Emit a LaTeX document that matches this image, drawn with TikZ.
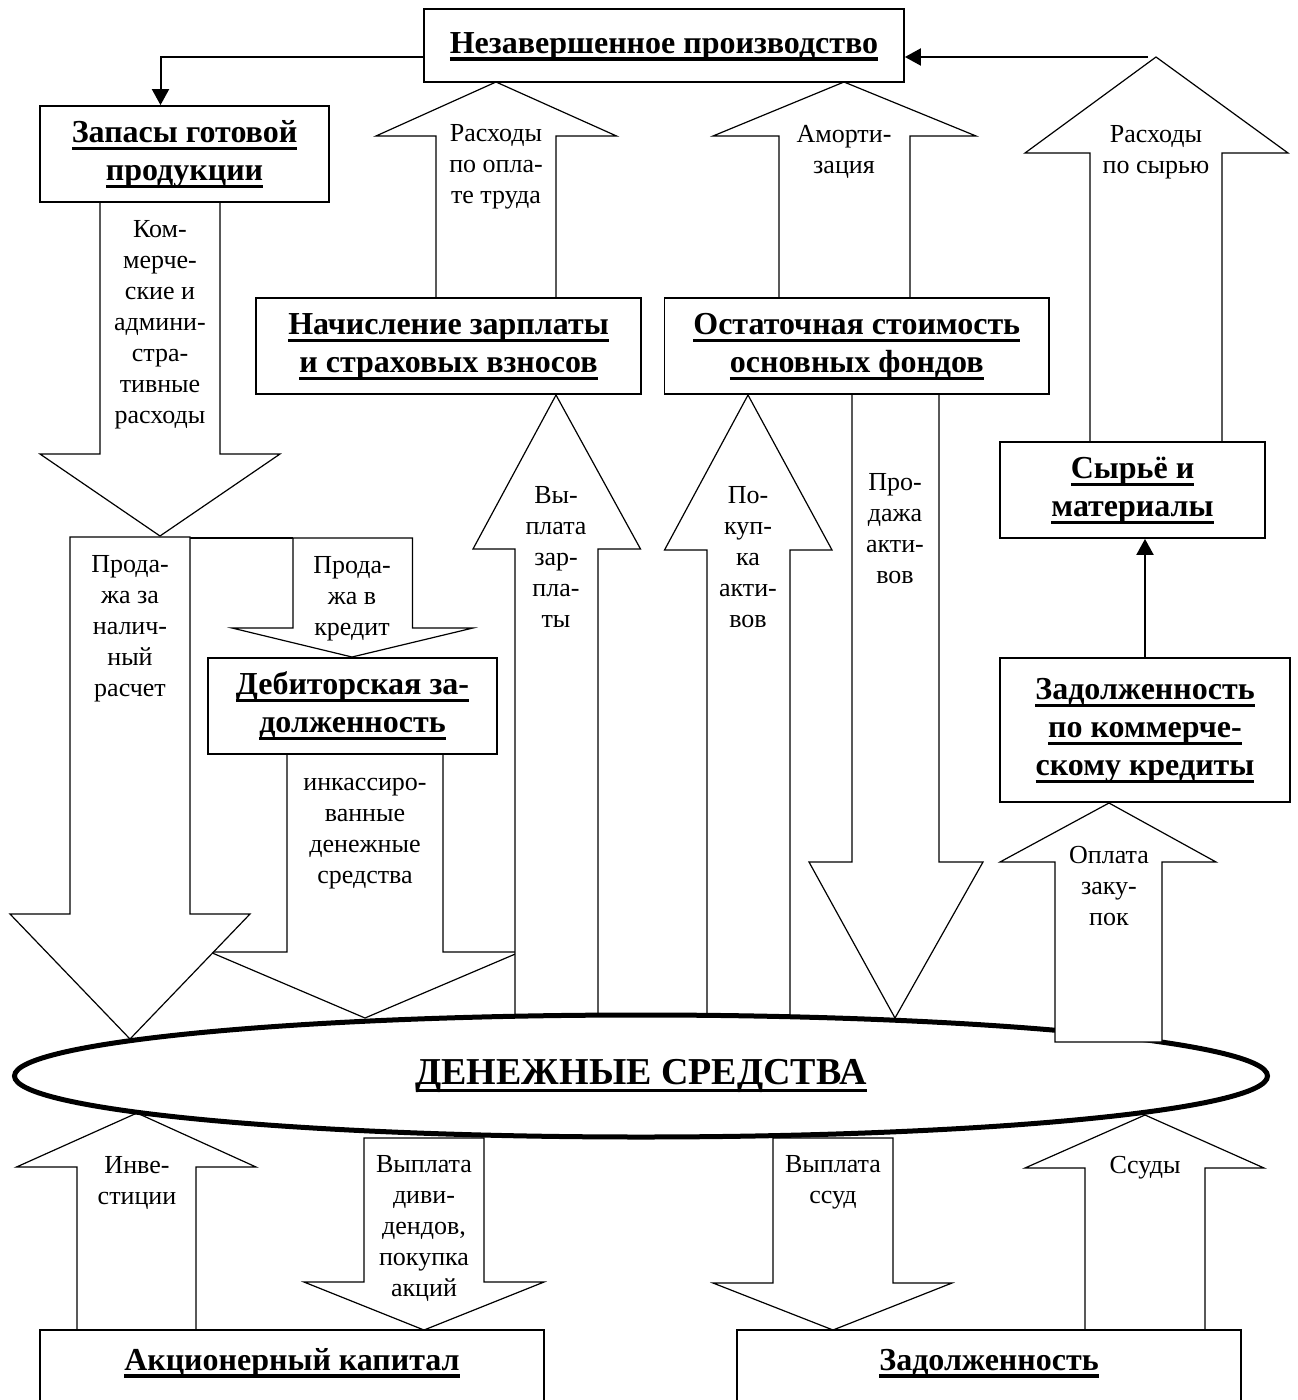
\documentclass[tikz,border=0pt]{standalone}
\usepackage{fontspec}
\setmainfont{Liberation Serif}
\usetikzlibrary{shapes.geometric,arrows.meta}
\newcommand\ulbf[1]{\setbox0=\hbox{#1}\rlap{\rule[-7.5pt]{\wd0}{3.5pt}}\box0}
\newcommand\BlkArr[8]{\draw[blk] (#1,#3) -- (#1,#6) -- (#4,#6) -- (#7,#8) -- (#5,#6) -- (#2,#6) -- (#2,#3) -- cycle;}
\begin{document}
\begin{tikzpicture}[x=1pt,y=-1pt,
  blk/.style={draw,line width=1.2pt,fill=white,line join=miter},
  box/.style={draw,line width=1.8pt,fill=white,inner sep=0pt,align=center,font=\bfseries\fontsize{32}{38}\selectfont},
  lbl/.style={inner sep=0pt,align=center,anchor=north,font=\fontsize{26}{31}\selectfont},
  thinarr/.style={line width=2pt,-{Triangle[length=16pt,width=17pt]}}]
\useasboundingbox (0,0) rectangle (1298,1400);

% block arrows (back layer)
\BlkArr{100}{220}{202}{40}{280}{454}{160}{536}      % Коммерческие
\BlkArr{436}{556}{298}{376}{616.5}{136}{496}{82}    % Расходы по оплате труда
\BlkArr{779}{910}{298}{713}{976}{136}{844}{82}      % Амортизация
\BlkArr{1090}{1222}{442}{1025}{1288}{153}{1156}{57} % Расходы по сырью
\BlkArr{293}{412.5}{538}{232}{473}{628}{352}{657}   % Продажа в кредит
\draw[line width=1.2pt] (190,538) -- (293,538);
\BlkArr{287}{443}{754}{210}{520}{952}{365}{1018}    % инкассированные
\BlkArr{70}{190}{537}{10}{250}{914}{130}{1039}      % наличный расчет
\BlkArr{515}{598}{1017}{473}{640.5}{549}{556}{395}  % Выплата зарплаты
\BlkArr{707}{790}{1017}{664.5}{832}{550}{748}{395}  % Покупка активов
\BlkArr{852}{939}{394}{809}{983}{862}{895}{1018}    % Продажа активов

% boxes
\node[box,minimum width=480pt,minimum height=73pt] (top) at (664,45.5) {\strut\ulbf{Незавершенное производство}};
\node[box,minimum width=289pt,minimum height=96pt] (zap) at (184.5,154) {\strut\ulbf{Запасы готовой}\\\ulbf{продукции}\strut};
\node[box,minimum width=385pt,minimum height=96pt] (nach) at (448.5,346) {\strut\ulbf{Начисление зарплаты}\\\ulbf{и страховых взносов}\strut};
\node[box,minimum width=384.5pt,minimum height=96pt] (ost) at (856.75,346) {\strut\ulbf{Остаточная стоимость}\\\ulbf{основных фондов}\strut};
\node[box,minimum width=265pt,minimum height=96pt] (syr) at (1132.5,490) {\strut\ulbf{Сырьё и}\\\ulbf{материалы}\strut};
\node[box,minimum width=290pt,minimum height=144pt] (zk) at (1145,730) {\strut\ulbf{Задолженность}\\\ulbf{по коммерче-}\\\ulbf{скому кредиты}\strut};
\node[box,minimum width=289pt,minimum height=96pt] (deb) at (352.5,706) {\strut\ulbf{Дебиторская за-}\\\ulbf{долженность}\strut};

% lower arrows
\BlkArr{77}{196}{1330}{16.5}{256}{1167}{137}{1113}    % Инвестиции
\BlkArr{364}{484}{1138}{304}{544}{1282}{424}{1330}    % Выплата дивидендов
\BlkArr{773}{893}{1138}{713}{952}{1283}{833}{1330}    % Выплата ссуд
\BlkArr{1085}{1205}{1330}{1025}{1264}{1168}{1145}{1115} % Ссуды

% ellipse
\node[ellipse,draw,line width=5pt,fill=white,minimum width=1253pt,minimum height=122pt,inner sep=0pt,font=\bfseries\fontsize{38}{45}\selectfont] (den) at (641,1076) {\ulbf{ДЕНЕЖНЫЕ СРЕДСТВА}};

\BlkArr{1055}{1162}{1042}{1000}{1216}{862}{1109}{803} % Оплата закупок

% bottom boxes
\node[box,minimum width=504pt,minimum height=80pt] (akc) at (292,1370) {\strut\ulbf{Акционерный капитал}\rule[-26.6pt]{0pt}{1pt}};
\node[box,minimum width=504pt,minimum height=80pt] (zad) at (989,1370) {\strut\ulbf{Задолженность}\rule[-26.6pt]{0pt}{1pt}};

% labels
\node[lbl] (t1) at (496,119.3) {\strut Расходы\\по опла-\\те труда};
\node[lbl] (t2) at (844,120.3) {\strut Аморти-\\зация};
\node[lbl] (t3) at (1156,120.3) {\strut Расходы\\по сырью};
\node[lbl] (t4) at (160,215.3) {\strut Ком-\\мерче-\\ские и\\админи-\\стра-\\тивные\\расходы};
\node[lbl] (t5) at (556,481.3) {\strut Вы-\\плата\\зар-\\пла-\\ты};
\node[lbl] (t6) at (748,481.3) {\strut По-\\куп-\\ка\\акти-\\вов};
\node[lbl] (t7) at (895,468.3) {\strut Про-\\дажа\\акти-\\вов};
\node[lbl] (t8) at (130,550.3) {\strut Прода-\\жа за\\налич-\\ный\\расчет};
\node[lbl] (t9) at (352,551.3) {\strut Прода-\\жа в\\кредит};
\node[lbl] (t10) at (365,768.3) {\strut инкассиро-\\ванные\\денежные\\средства};
\node[lbl] (t11) at (1109,841.3) {\strut Оплата\\заку-\\пок};
\node[lbl] (t12) at (137,1151.3) {\strut Инве-\\стиции};
\node[lbl] (t13) at (424,1150.3) {\strut Выплата\\диви-\\дендов,\\покупка\\акций};
\node[lbl] (t14) at (833,1150.3) {\strut Выплата\\ссуд};
\node[lbl] (t15) at (1145,1151.3) {\strut Ссуды};

% thin connectors
\coordinate (rs) at (1148,57);
\draw[thinarr] ([yshift=-11.5pt]top.west) -| ([xshift=-24pt]zap.north);
\draw[thinarr] (rs) -- (rs -| top.east);
\draw[thinarr] (zk.north) -- (zk.north |- syr.south);
\end{tikzpicture}
\end{document}
